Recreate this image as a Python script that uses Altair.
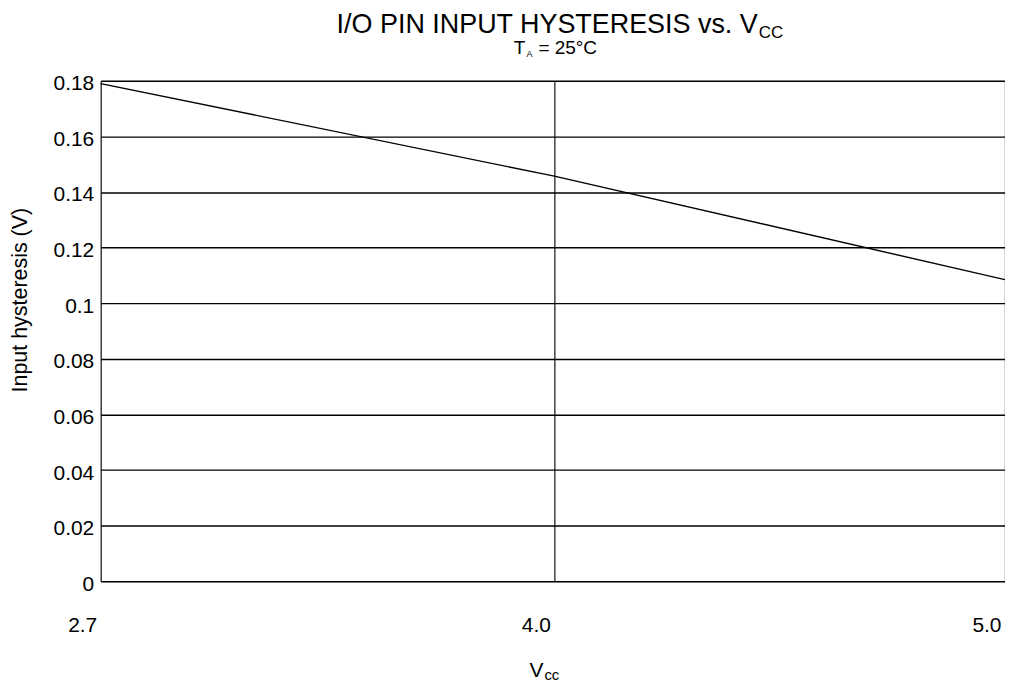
import altair as alt
import pandas as pd

vcc = [2.7, 4.0, 5.0]
hysteresis = [0.179, 0.1457, 0.1085]
x_ticks = [2.7, 4.0, 5.0]
y_ticks = [0, 0.02, 0.04, 0.06, 0.08, 0.1, 0.12, 0.14, 0.16, 0.18]

W, H = 907, 502
FONT = "Liberation Sans"

df = pd.DataFrame({"vcc": vcc, "hyst": hysteresis})

x_scale = alt.Scale(domain=[2.7, 4.0, 5.0], range=[0, 455, W])
y_scale = alt.Scale(domain=[0, 0.18])

line = alt.Chart(df).mark_line(color="black", strokeWidth=1.4).encode(
    x=alt.X("vcc:Q", scale=x_scale,
            axis=alt.Axis(values=x_ticks, format=".1f", title=None, grid=True,
                          gridColor="#333", gridWidth=1.4, domain=False, ticks=False,
                          labelAlign="right", labelOffset=-4, labelBaseline="top",
                          labelPadding=33, labelFontSize=21, labelFont=FONT,
                          labelColor="black", labelFlush=False)),
    y=alt.Y("hyst:Q", scale=y_scale,
            axis=alt.Axis(values=y_ticks, format="~g", title=None, grid=True,
                          gridColor="black", gridWidth=1.4, domain=False, ticks=False,
                          labelPadding=7, labelFontSize=21, labelFont=FONT,
                          labelOffset=3, labelColor="black")),
)


def txt(s, x, y, size, align="left", angle=0, baseline="alphabetic"):
    return alt.Chart(pd.DataFrame({"t": [s]})).mark_text(
        font=FONT, fontSize=size, align=align, baseline=baseline, angle=angle,
        color="black"
    ).encode(text="t:N", x=alt.value(x), y=alt.value(y))


texts = [
    txt("I/O PIN INPUT HYSTERESIS vs. V", 659, -48, 27, align="right"),
    txt("CC", 660, -43, 17),
    txt("T", 426, -27, 19, align="right"),
    txt("A", 427, -24, 9),
    txt("= 25°C", 439, -27, 19),
    txt("V", 444, 598, 21, align="right"),
    txt("cc", 445, 601, 15),
    txt("Input hysteresis (V)", -80, 220, 21.5, align="center", angle=270, baseline="middle"),
]

chart = alt.layer(line, *texts).properties(
    width=W, height=H,
    autosize=alt.AutoSizeParams(type="none"),
    padding={"left": 93, "top": 72, "right": 0, "bottom": 104},
).configure_view(stroke="black", strokeWidth=1.6).configure(background="white")

chart.save("out.html", embed_options={"renderer": "svg", "actions": False})
